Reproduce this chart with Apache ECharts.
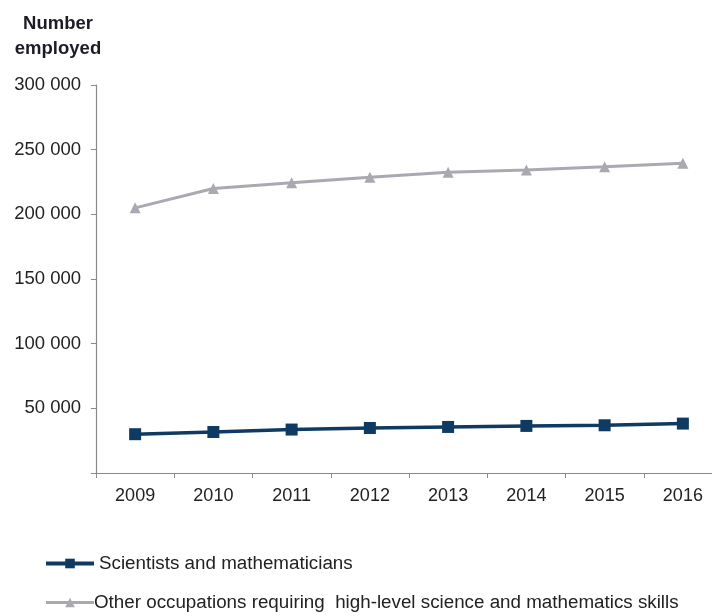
<!DOCTYPE html>
<html>
<head>
<meta charset="utf-8">
<script src="https://cdn.jsdelivr.net/npm/echarts@6/dist/echarts.min.js"></script>
<style>
  html, body { margin: 0; padding: 0; background: #ffffff; overflow: hidden; }
  /* canvas is a little wider than the window so the last category is cut at the edge */
  #chart { width: 722px; height: 616px; }
</style>
</head>
<body>
<div id="chart"></div>
<script>
// Employment by occupation group, 2009–2016
const years = ['2009', '2010', '2011', '2012', '2013', '2014', '2015', '2016'];
const scientists = [30000, 31700, 33600, 34800, 35600, 36400, 36900, 38200];
const otherOccupations = [205000, 220000, 224400, 228600, 232500, 234300, 236800, 239500];
const yTicks = [0, 50000, 100000, 150000, 200000, 250000, 300000];

const seriesNames = [
  'Scientists and mathematicians',
  'Other occupations requiring  high-level science and mathematics skills'
];

const font = '"Liberation Sans", Arial, sans-serif';

function fmt(v) {
  if (v === 0) return '';
  return String(v).replace(/\B(?=(\d{3})+(?!\d))/g, ' ');
}

const chart = echarts.init(document.getElementById('chart'), null, { renderer: 'canvas' });

chart.setOption({
  backgroundColor: '#ffffff',
  animation: false,
  textStyle: { fontFamily: font },
  title: {
    text: 'Number\nemployed',
    left: 53,
    top: 6,
    textAlign: 'center',
    textStyle: {
      fontFamily: font,
      fontSize: 18.5,
      fontWeight: 'bold',
      color: '#1c1c28',
      lineHeight: 25
    }
  },
  grid: { left: 96, right: 0, top: 85, bottom: 143, containLabel: false },
  legend: {
    orient: 'vertical',
    left: 44,
    top: 554,
    padding: 0,
    itemWidth: 48,
    itemHeight: 12,
    itemGap: 20,
    textStyle: { fontFamily: font, fontSize: 18.8, color: '#222222' },
    data: [
      { name: seriesNames[0], lineStyle: { width: 4 } },
      { name: seriesNames[1], textStyle: { padding: [0, 0, 0, -5] }, lineStyle: { width: 3 } }
    ]
  },
  xAxis: {
    type: 'category',
    data: years,
    boundaryGap: true,
    axisLine: { lineStyle: { color: '#8a8a8a', width: 1.2 } },
    axisTick: { show: true, length: 5, lineStyle: { color: '#8a8a8a' } },
    axisLabel: { fontFamily: font, fontSize: 18, color: '#222222', margin: 14 },
    splitLine: { show: false }
  },
  yAxis: {
    type: 'value',
    min: yTicks[0],
    max: yTicks[yTicks.length - 1],
    interval: yTicks[1] - yTicks[0],
    axisLine: { show: true, lineStyle: { color: '#8a8a8a', width: 1.2 } },
    axisTick: { show: true, length: 5, lineStyle: { color: '#8a8a8a' } },
    axisLabel: { fontFamily: font, fontSize: 18.5, color: '#222222', margin: 15, formatter: fmt },
    splitLine: { show: false }
  },
  series: [
    {
      name: seriesNames[0],
      type: 'line',
      data: scientists,
      symbol: 'rect',
      symbolSize: 12,
      lineStyle: { color: '#0f3b63', width: 3.5 },
      itemStyle: { color: '#0f3b63' }
    },
    {
      name: seriesNames[1],
      type: 'line',
      data: otherOccupations,
      symbol: 'triangle',
      symbolSize: 11,
      lineStyle: { color: '#a9a9b1', width: 3 },
      itemStyle: { color: '#a9a9b1' }
    }
  ]
});
</script>
</body>
</html>
